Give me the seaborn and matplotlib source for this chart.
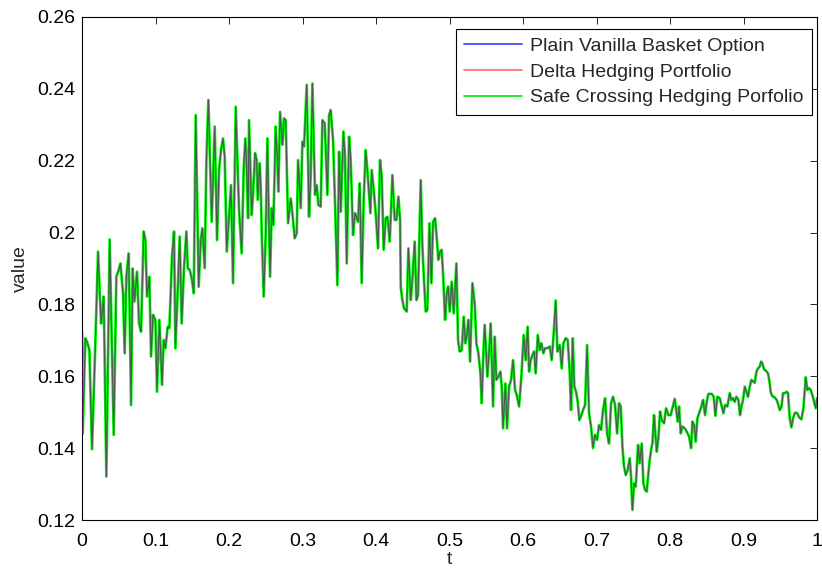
import numpy as np
import pandas as pd
import matplotlib
matplotlib.use("Agg")
import matplotlib.pyplot as plt
import seaborn as sns

# Portfolio value paths sampled along t (piecewise by time window)
t_a = [0.0, 0.0009, 0.0045, 0.0068, 0.0100, 0.0136, 0.0181, 0.0218, 0.0259, 0.0272, 0.0295, 0.0331, 0.0376, 0.0431, 0.0467, 0.0499, 0.0522, 0.0558, 0.0580, 0.0603, 0.0635, 0.0667, 0.0689, 0.0712, 0.0748, 0.0776, 0.0803, 0.0839, 0.0862, 0.0884, 0.0916, 0.0939, 0.0966, 0.0998, 0.1020, 0.1052, 0.1088, 0.1111, 0.1134, 0.1166, 0.1188, 0.1224, 0.1252]
v_a = [0.172, 0.1441, 0.1706, 0.1696, 0.1673, 0.1397, 0.1692, 0.1947, 0.1747, 0.1771, 0.1822, 0.1321, 0.1981, 0.1437, 0.1877, 0.1896, 0.1914, 0.1831, 0.1664, 0.1877, 0.1942, 0.1520, 0.1900, 0.1808, 0.1891, 0.1747, 0.1724, 0.2003, 0.1979, 0.1822, 0.1877, 0.1655, 0.1771, 0.1757, 0.1557, 0.1757, 0.1576, 0.1701, 0.1678, 0.1738, 0.1734, 0.1933, 0.2003]

t_b = [0.1270, 0.1297, 0.1329, 0.1356, 0.1388, 0.1420, 0.1438, 0.1465, 0.1492, 0.1520, 0.1547, 0.1587, 0.1615, 0.1637, 0.1669, 0.1692, 0.1719, 0.1764, 0.1805, 0.1837, 0.1864, 0.1891, 0.1918, 0.1941, 0.1969, 0.2000, 0.2027, 0.2054, 0.2091, 0.2136, 0.2172, 0.2200, 0.2222, 0.2240, 0.2259, 0.2272, 0.2308, 0.2327, 0.2354, 0.2376, 0.2390, 0.2417]
v_b = [0.1678, 0.1812, 0.1989, 0.1747, 0.1905, 0.2003, 0.1901, 0.1896, 0.1873, 0.1831, 0.2327, 0.1849, 0.1979, 0.2012, 0.1901, 0.2202, 0.2369, 0.2030, 0.2295, 0.1979, 0.2174, 0.2230, 0.2262, 0.2211, 0.1947, 0.2044, 0.2132, 0.1859, 0.2350, 0.2063, 0.1942, 0.2183, 0.2262, 0.2183, 0.2040, 0.2313, 0.2049, 0.2109, 0.2221, 0.2202, 0.2091, 0.2193]

t_c = [0.2431, 0.2445, 0.2472, 0.2499, 0.2522, 0.2535, 0.2558, 0.2581, 0.2603, 0.2635, 0.2658, 0.2671, 0.2694, 0.2726, 0.2748, 0.2771, 0.2803, 0.2839, 0.2862, 0.2893, 0.2921, 0.2939, 0.2975, 0.2998, 0.3020, 0.3057, 0.3088, 0.3111, 0.3134, 0.3170, 0.3193, 0.3215, 0.3247, 0.3270, 0.3302, 0.3338, 0.3361, 0.3383, 0.3415, 0.3442, 0.3474, 0.3497, 0.3520, 0.3556, 0.3578, 0.3601, 0.3633]
v_c = [0.2128, 0.1998, 0.1822, 0.1998, 0.2262, 0.2109, 0.1877, 0.2068, 0.2021, 0.2295, 0.2202, 0.2114, 0.2336, 0.2244, 0.2318, 0.2313, 0.2026, 0.2095, 0.2054, 0.1984, 0.1998, 0.2202, 0.2068, 0.2253, 0.2239, 0.2411, 0.2044, 0.2156, 0.2415, 0.2105, 0.2132, 0.2077, 0.2072, 0.2313, 0.2304, 0.2105, 0.2327, 0.2341, 0.2258, 0.2081, 0.1854, 0.2225, 0.2058, 0.2281, 0.2211, 0.1914, 0.2267]

t_d = [0.3655, 0.3687, 0.3714, 0.3732, 0.3755, 0.3778, 0.3805, 0.3832, 0.3859, 0.3882, 0.3905, 0.3923, 0.3941, 0.3973, 0.3995, 0.4027, 0.4054, 0.4077, 0.4104, 0.4132, 0.4154, 0.4168, 0.4186, 0.4204, 0.4222, 0.4254, 0.4277, 0.4304, 0.4327, 0.4336, 0.4358, 0.4381, 0.4417, 0.4440, 0.4472, 0.4494, 0.4526, 0.4549, 0.4571, 0.4608, 0.4630, 0.4653, 0.4676, 0.4698, 0.4726, 0.4753, 0.4776, 0.4803, 0.4821, 0.4848, 0.4871]
v_d = [0.2202, 0.1993, 0.2054, 0.2044, 0.2030, 0.2137, 0.1859, 0.2091, 0.2230, 0.2174, 0.2109, 0.2054, 0.2174, 0.2109, 0.2054, 0.1956, 0.2202, 0.2156, 0.1952, 0.2040, 0.2044, 0.2016, 0.1975, 0.2063, 0.2160, 0.2035, 0.2035, 0.2100, 0.2035, 0.1849, 0.1812, 0.1789, 0.1780, 0.1956, 0.1812, 0.1868, 0.1975, 0.1812, 0.1826, 0.2146, 0.1965, 0.1863, 0.1780, 0.1785, 0.2026, 0.1859, 0.2030, 0.2040, 0.1998, 0.1924, 0.1947]

t_e = [0.4893, 0.4916, 0.4939, 0.4957, 0.4980, 0.5002, 0.5030, 0.5057, 0.5093, 0.5116, 0.5138, 0.5166, 0.5193, 0.5215, 0.5238, 0.5256, 0.5279, 0.5311, 0.5342, 0.5365, 0.5392, 0.5420, 0.5438, 0.5460, 0.5478, 0.5515, 0.5537, 0.5560, 0.5592, 0.5615, 0.5637, 0.5664, 0.5692, 0.5710, 0.5728, 0.5760, 0.5782, 0.5810, 0.5837, 0.5864, 0.5891, 0.5914, 0.5946, 0.5977, 0.6009, 0.6036, 0.6063]
v_e = [0.1952, 0.1868, 0.1757, 0.1822, 0.1850, 0.1780, 0.1863, 0.1775, 0.1914, 0.1701, 0.1669, 0.1673, 0.1766, 0.1692, 0.1720, 0.1757, 0.1641, 0.1859, 0.1803, 0.1692, 0.1664, 0.1608, 0.1525, 0.1664, 0.1743, 0.1599, 0.1664, 0.1747, 0.1516, 0.1710, 0.1590, 0.1599, 0.1613, 0.1571, 0.1455, 0.1580, 0.1455, 0.1571, 0.1590, 0.1645, 0.1562, 0.1548, 0.1516, 0.1599, 0.1715, 0.1645, 0.1738]

t_f = [0.6082, 0.6104, 0.6127, 0.6150, 0.6172, 0.6200, 0.6227, 0.6249, 0.6277, 0.6299, 0.6331, 0.6363, 0.6390, 0.6417, 0.6444, 0.6467, 0.6499, 0.6526, 0.6549, 0.6580, 0.6608, 0.6635, 0.6653, 0.6676, 0.6698, 0.6721, 0.6744, 0.6766, 0.6794, 0.6816, 0.6844, 0.6871, 0.6898, 0.6925, 0.6952, 0.6980, 0.7007, 0.7034, 0.7061, 0.7088, 0.7116, 0.7143, 0.7170, 0.7197, 0.7224, 0.7252, 0.7279, 0.7306]
v_f = [0.1613, 0.1645, 0.1659, 0.1669, 0.1608, 0.1715, 0.1673, 0.1692, 0.1664, 0.1678, 0.1678, 0.1683, 0.1645, 0.1720, 0.1811, 0.1669, 0.1687, 0.1622, 0.1692, 0.1706, 0.1701, 0.1608, 0.1506, 0.1706, 0.1571, 0.1557, 0.1529, 0.1478, 0.1492, 0.1506, 0.1520, 0.1687, 0.1497, 0.1460, 0.1400, 0.1437, 0.1423, 0.1464, 0.1451, 0.1506, 0.1539, 0.1441, 0.1413, 0.1525, 0.1543, 0.1520, 0.1441, 0.1525]

t_g = [0.7329, 0.7352, 0.7374, 0.7397, 0.7424, 0.7451, 0.7469, 0.7488, 0.7510, 0.7533, 0.7565, 0.7587, 0.7615, 0.7637, 0.7660, 0.7683, 0.7705, 0.7723, 0.7746, 0.7760, 0.7782, 0.7796, 0.7819, 0.7841, 0.7864, 0.7887, 0.7918, 0.7946, 0.7977, 0.8009, 0.8032, 0.8063, 0.8086, 0.8104, 0.8122, 0.8145, 0.8168, 0.8200, 0.8227, 0.8259, 0.8286, 0.8304, 0.8327, 0.8349, 0.8372, 0.8395, 0.8426, 0.8449, 0.8476, 0.8499, 0.8522]
v_g = [0.1516, 0.1404, 0.1349, 0.1325, 0.1339, 0.1372, 0.1321, 0.1228, 0.1302, 0.1293, 0.1409, 0.1358, 0.1413, 0.1302, 0.1284, 0.1279, 0.1330, 0.1367, 0.1400, 0.1413, 0.1492, 0.1451, 0.1390, 0.1427, 0.1502, 0.1478, 0.1469, 0.1511, 0.1492, 0.1492, 0.1511, 0.1537, 0.1502, 0.1474, 0.1516, 0.1441, 0.1460, 0.1455, 0.1446, 0.1432, 0.1400, 0.1474, 0.1464, 0.1418, 0.1483, 0.1497, 0.1516, 0.1534, 0.1492, 0.1529, 0.1551]

t_h = [0.8567, 0.8594, 0.8617, 0.8644, 0.8676, 0.8703, 0.8726, 0.8748, 0.8780, 0.8812, 0.8834, 0.8857, 0.8880, 0.8902, 0.8930, 0.8952, 0.8971, 0.8993, 0.9016, 0.9039, 0.9061, 0.9084, 0.9107, 0.9134, 0.9152, 0.9175, 0.9197, 0.9220, 0.9238, 0.9256, 0.9279, 0.9302, 0.9333, 0.9356, 0.9370, 0.9392, 0.9424, 0.9451, 0.9474, 0.9492, 0.9515, 0.9537, 0.9560, 0.9587, 0.9605, 0.9628, 0.9651, 0.9673, 0.9701, 0.9732, 0.9755, 0.9787, 0.9814, 0.9846, 0.9868, 0.9891, 0.9914, 0.9936, 0.9959, 0.9982, 1.0]
v_h = [0.1551, 0.1543, 0.1490, 0.1543, 0.1539, 0.1516, 0.1497, 0.1520, 0.1516, 0.1553, 0.1534, 0.1539, 0.1529, 0.1543, 0.1534, 0.1492, 0.1516, 0.1534, 0.1571, 0.1557, 0.1543, 0.1571, 0.1590, 0.1585, 0.1582, 0.1613, 0.1622, 0.1627, 0.1641, 0.1636, 0.1619, 0.1616, 0.1608, 0.1580, 0.1555, 0.1545, 0.1541, 0.1534, 0.1520, 0.1506, 0.1514, 0.1553, 0.1553, 0.1557, 0.1553, 0.1483, 0.1458, 0.1483, 0.1499, 0.1497, 0.1486, 0.1480, 0.1511, 0.1597, 0.1562, 0.1567, 0.1562, 0.1548, 0.1529, 0.1511, 0.1539]

series_names = ["Plain Vanilla Basket Option", "Delta Hedging Portfolio",
                "Safe Crossing Hedging Porfolio"]
x_ticks = [0, 0.1, 0.2, 0.3, 0.4, 0.5, 0.6, 0.7, 0.8, 0.9, 1]
x_tick_labels = ["0", "0.1", "0.2", "0.3", "0.4", "0.5", "0.6", "0.7", "0.8", "0.9", "1"]
y_ticks = [0.12, 0.14, 0.16, 0.18, 0.2, 0.22, 0.24, 0.26]
y_tick_labels = ["0.12", "0.14", "0.16", "0.18", "0.2", "0.22", "0.24", "0.26"]

t = np.concatenate([t_a, t_b, t_c, t_d, t_e, t_f, t_g, t_h])
v = np.concatenate([v_a, v_b, v_c, v_d, v_e, v_f, v_g, v_h])
df = pd.DataFrame({"t": t, "value": v})

sns.set_style("white")
plt.rcParams["font.family"] = ["Liberation Sans", "DejaVu Sans"]

fig = plt.figure(figsize=(8.22, 5.72), dpi=100)
ax = fig.add_axes([0.0998, 0.0909, 0.8942, 0.8794])

# the three portfolios coincide; green drawn widest underneath
styles = [
    dict(color="#0000ff", alpha=0.5, lw=0.8, zorder=3),
    dict(color="#ff0000", alpha=0.33, lw=0.8, zorder=4),
    dict(color="#00ff00", alpha=1.0, lw=2.0, zorder=2),
]
for name, st in zip(series_names, styles):
    sns.lineplot(data=df, x="t", y="value", ax=ax, sort=False, estimator=None,
                 label=name, **st)

ax.set_xlim(0, 1)
ax.set_ylim(0.12, 0.26)
ax.set_xticks(x_ticks)
ax.set_xticklabels(x_tick_labels)
ax.set_yticks(y_ticks)
ax.set_yticklabels(y_tick_labels)
ax.tick_params(direction="in", top=True, right=True, length=5, width=0.6,
               labelsize=14, colors="black")
ax.tick_params(axis="x", pad=9)
ax.tick_params(axis="y", pad=5)
for s in ax.spines.values():
    s.set_visible(True)
    s.set_color("black")
    s.set_linewidth(0.8)
ax.set_xlabel("t", fontsize=14, labelpad=1)
ax.set_ylabel("value", fontsize=14, labelpad=6)

leg = ax.legend(loc="upper right", bbox_to_anchor=(0.9932, 0.9761), fontsize=14,
                frameon=True, fancybox=False, framealpha=1, edgecolor="black",
                borderpad=0.42, handlelength=3.0, handletextpad=0.42,
                labelspacing=0.42, borderaxespad=0.0)
leg.get_frame().set_linewidth(0.8)
legend_colors = ["#3a3aff", "#ff6a6a", "#00ee00"]
for h, c in zip(leg.get_lines(), legend_colors):
    h.set_linewidth(1.2)
    h.set_alpha(1.0)
    h.set_color(c)

fig.savefig("out.png", dpi=100)
